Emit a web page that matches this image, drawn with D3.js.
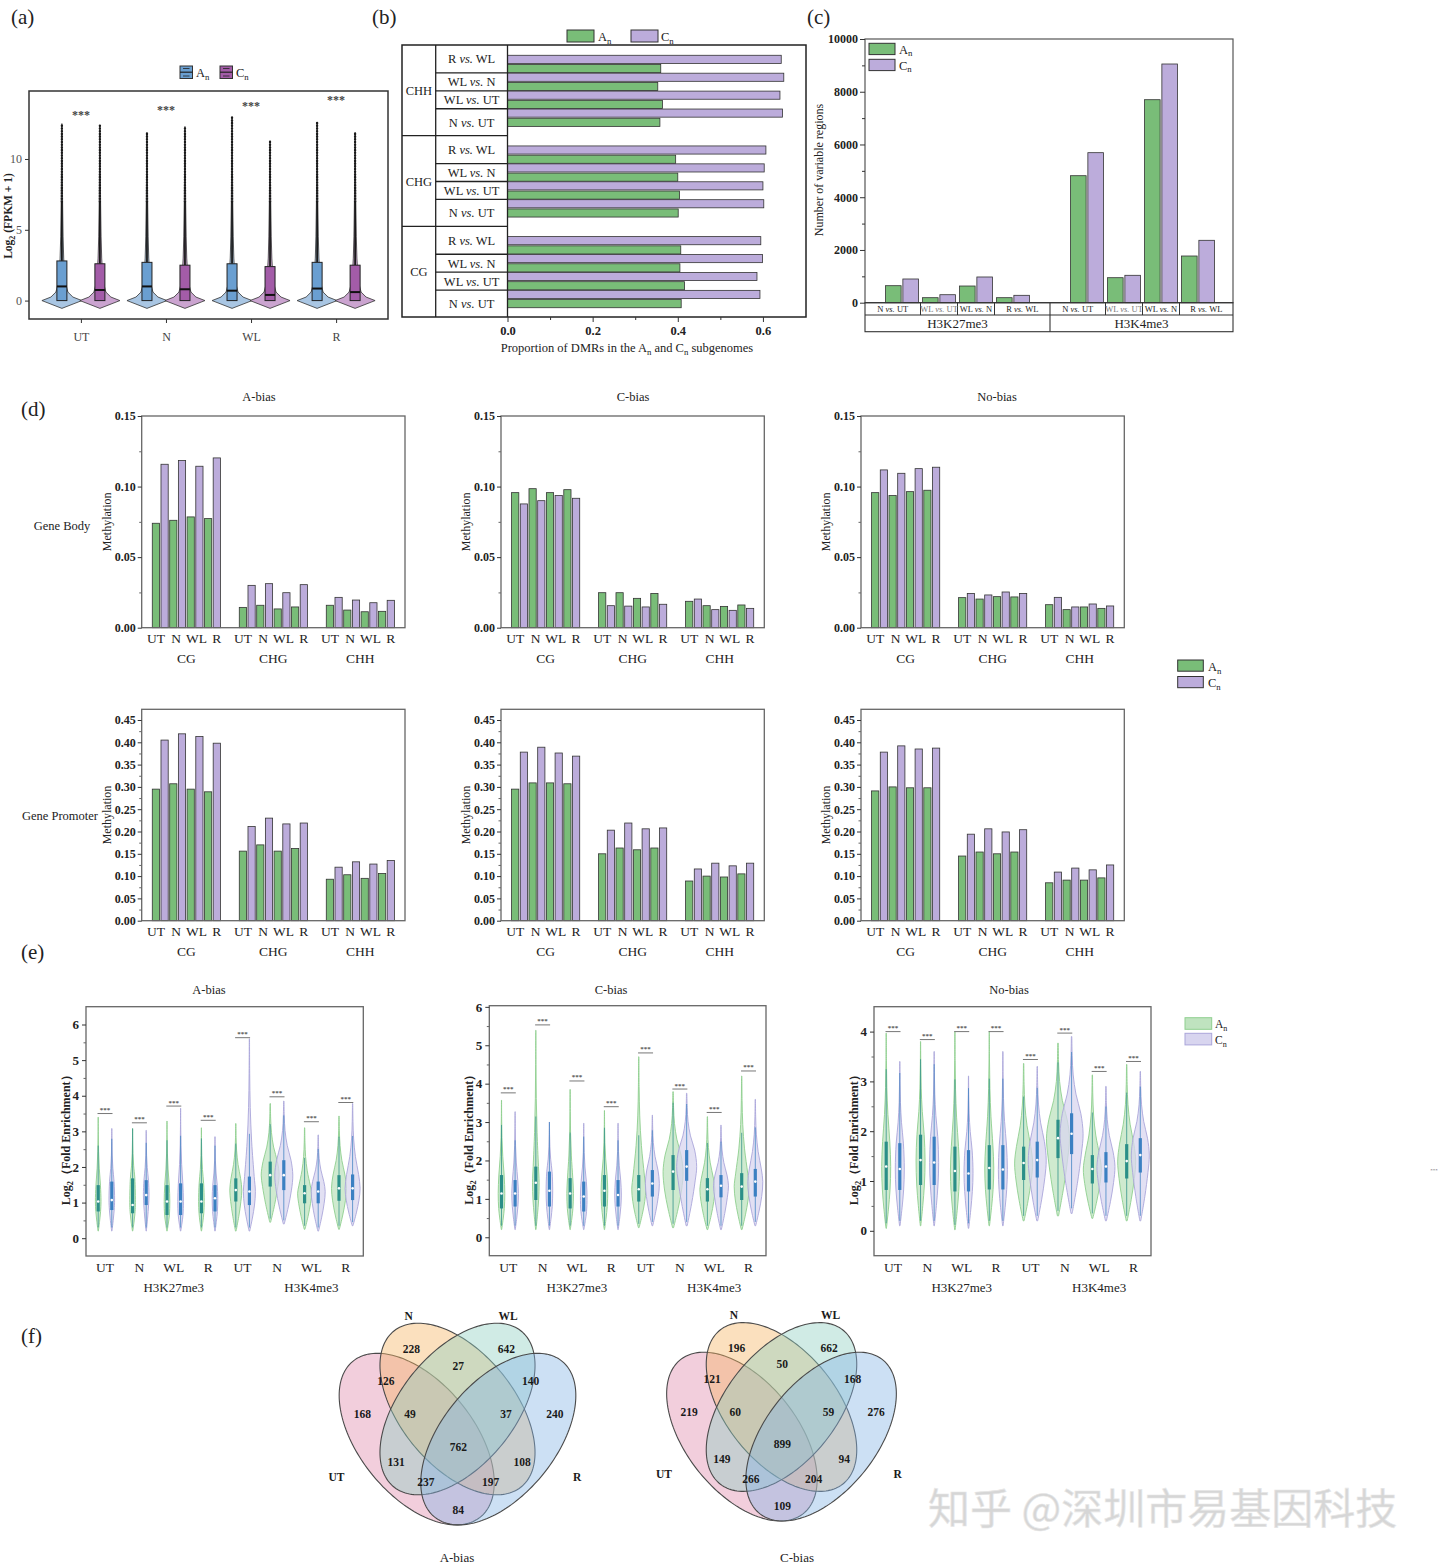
<!DOCTYPE html>
<html>
<head>
<meta charset="utf-8">
<title>Subgenome expression, DNA methylation and histone marks</title>
<script src="https://cdn.jsdelivr.net/npm/d3@7/dist/d3.min.js"></script>
<style>
  body { margin: 0; background: #fff; }
  svg { display: block; }
</style>
</head>
<body>
<svg id="fig" width="1440" height="1568"></svg>
<script>
// ---- (a) expression, log2(FPKM+1): box summaries per condition ----
const condA = ['UT', 'N', 'WL', 'R'];
const aMedAn = [1.0, 1.0, 0.7, 0.85];
const aQ3An = [2.8, 2.7, 2.6, 2.7];
const aMaxAn = [12.5, 11.9, 13.0, 12.6];
const aMedCn = [0.75, 0.8, 0.4, 0.6];
const aQ3Cn = [2.6, 2.5, 2.4, 2.5];
const aMaxCn = [12.4, 12.3, 11.3, 11.9];
const aSigY = [13.2, 13.5, 13.8, 14.2];

// ---- (b) proportion of DMRs ----
const dmrContexts = ['CHH', 'CHG', 'CG'];
const dmrComparisons = ['R vs. WL', 'WL vs. N', 'WL vs. UT', 'N vs. UT'];
const dmrAn = [[0.360, 0.353, 0.364, 0.358], [0.395, 0.400, 0.404, 0.401], [0.407, 0.405, 0.416, 0.408]];
const dmrCn = [[0.643, 0.649, 0.640, 0.646], [0.607, 0.603, 0.600, 0.602], [0.595, 0.599, 0.586, 0.593]];

// ---- (c) variable histone regions ----
const histMarks = ['H3K27me3', 'H3K4me3'];
const histComparisons = ['N vs. UT', 'WL vs. UT', 'WL vs. N', 'R vs. WL'];
const regionsAn = [[645, 190, 633, 190], [4816, 948, 7698, 1771]];
const regionsCn = [[899, 303, 975, 280], [5689, 1039, 9052, 2366]];

// ---- (d) methylation level [context][condition] ----
const contexts = ['CG', 'CHG', 'CHH'];
const conditions = ['UT', 'N', 'WL', 'R'];
const bodyAnA = [[0.074, 0.0761, 0.0785, 0.0773], [0.0144, 0.0159, 0.0133, 0.0147], [0.0159, 0.0125, 0.0113, 0.0116]];
const bodyCnA = [[0.1158, 0.1184, 0.1144, 0.1203], [0.0300, 0.0312, 0.0248, 0.0305], [0.0215, 0.0196, 0.0177, 0.0194]];
const bodyAnC = [[0.0957, 0.0985, 0.0957, 0.0978], [0.0248, 0.0248, 0.0208, 0.0243], [0.0187, 0.0156, 0.0151, 0.0161]];
const bodyCnC = [[0.0877, 0.0900, 0.0936, 0.0917], [0.0156, 0.0153, 0.0147, 0.0166], [0.0203, 0.0128, 0.0123, 0.0137]];
const bodyAnN = [[0.0957, 0.0936, 0.0964, 0.0974], [0.0213, 0.0203, 0.0220, 0.0218], [0.0163, 0.0128, 0.0147, 0.0137]];
const bodyCnN = [[0.1118, 0.1094, 0.1127, 0.1137], [0.0243, 0.0232, 0.0253, 0.0243], [0.0215, 0.0147, 0.0168, 0.0154]];
const promAnA = [[0.295, 0.307, 0.295, 0.289], [0.156, 0.170, 0.156, 0.162], [0.093, 0.103, 0.095, 0.106]];
const promCnA = [[0.405, 0.419, 0.413, 0.398], [0.211, 0.230, 0.217, 0.219], [0.120, 0.132, 0.127, 0.135]];
const promAnC = [[0.295, 0.309, 0.309, 0.307], [0.150, 0.163, 0.159, 0.163], [0.089, 0.100, 0.098, 0.105]];
const promCnC = [[0.378, 0.389, 0.376, 0.369], [0.203, 0.219, 0.206, 0.208], [0.116, 0.129, 0.123, 0.129]];
const promAnN = [[0.291, 0.300, 0.298, 0.298], [0.145, 0.154, 0.150, 0.154], [0.085, 0.091, 0.091, 0.096]];
const promCnN = [[0.378, 0.392, 0.385, 0.387], [0.194, 0.206, 0.199, 0.204], [0.109, 0.118, 0.114, 0.125]];

// ---- (e) log2 fold enrichment: [min, q1, median, q3, max] per condition (H3K27me3 x4, H3K4me3 x4) ----
const enrAnA = [[0.2, 0.75, 1.03, 1.49, 3.4], [0.2, 0.7, 0.93, 1.68, 3.08], [0.2, 0.65, 1.03, 1.49, 3.29], [0.2, 0.7, 1.03, 1.54, 3.1],
  [0.2, 1.03, 1.35, 1.68, 3.22], [0.45, 1.45, 1.77, 2.15, 3.78], [0.25, 0.98, 1.26, 1.49, 3.1], [0.25, 1.05, 1.4, 1.77, 3.43]];
const enrCnA = [[0.2, 0.79, 1.07, 1.59, 3.08], [0.2, 0.93, 1.21, 1.63, 3.03], [0.2, 0.65, 1.03, 1.54, 3.65], [0.2, 0.75, 1.12, 1.49, 2.85],
  [0.2, 0.93, 1.31, 1.73, 5.6], [0.4, 1.35, 1.77, 2.19, 3.85], [0.2, 0.98, 1.31, 1.59, 2.9], [0.35, 1.07, 1.4, 1.79, 3.78]];
const enrSigA = [3.5, 3.24, 3.71, 3.31, 5.63, 3.97, 3.27, 3.81];
const enrSpreadA = [0.28, 0.28, 0.28, 0.28, 0.6, 0.9, 0.7, 0.75];
const enrAnC = [[0.2, 0.75, 1.14, 1.62, 3.57], [0.2, 0.97, 1.42, 1.84, 5.39], [0.2, 0.75, 1.14, 1.54, 3.85], [0.2, 0.8, 1.21, 1.62, 3.3],
  [0.25, 0.93, 1.25, 1.62, 4.7], [0.25, 1.23, 1.71, 2.14, 3.79], [0.2, 0.93, 1.25, 1.54, 3.14], [0.2, 0.97, 1.32, 1.67, 4.2]];
const enrCnC = [[0.2, 0.8, 1.14, 1.49, 3.27], [0.2, 0.8, 1.21, 1.71, 3.0], [0.2, 0.67, 1.06, 1.45, 2.97], [0.2, 0.8, 1.1, 1.49, 2.97],
  [0.3, 1.06, 1.4, 1.75, 3.18], [0.3, 1.47, 1.84, 2.27, 3.75], [0.2, 1.04, 1.34, 1.62, 2.92], [0.3, 1.06, 1.45, 1.78, 3.59]];
const enrSigC = [3.76, 5.53, 4.07, 3.4, 4.8, 3.86, 3.25, 4.33];
const enrSpreadC = [0.33, 0.33, 0.33, 0.33, 0.7, 1.0, 0.75, 0.75];
const enrAnN = [[0.05, 0.82, 1.29, 1.79, 3.97], [0.1, 0.92, 1.42, 1.93, 3.8], [0.02, 0.79, 1.2, 1.69, 4.0], [0.1, 0.83, 1.26, 1.72, 4.0],
  [0.2, 1.02, 1.36, 1.69, 3.36], [0.3, 1.46, 1.86, 2.23, 3.77], [0.25, 0.95, 1.24, 1.52, 3.13], [0.2, 1.05, 1.4, 1.74, 3.34]];
const enrCnN = [[0.1, 0.82, 1.24, 1.76, 3.4], [0.1, 0.92, 1.37, 1.89, 3.6], [0.05, 0.79, 1.15, 1.62, 3.11], [0.1, 0.83, 1.23, 1.72, 3.6],
  [0.2, 1.07, 1.42, 1.79, 3.3], [0.35, 1.54, 1.95, 2.36, 3.9], [0.2, 0.97, 1.29, 1.58, 2.9], [0.2, 1.17, 1.52, 1.86, 3.2]];
const enrSigN = [4.0, 3.84, 4.0, 4.0, 3.44, 3.97, 3.2, 3.4];
const enrSpreadN = [0.45, 0.45, 0.45, 0.45, 0.9, 1.15, 0.9, 0.9];

// ---- (f) Venn region counts ----
const vennSets = ['UT', 'N', 'WL', 'R'];
const vennCountsA = [228, 642, 27, 126, 140, 168, 49, 37, 240, 762, 131, 108, 237, 197, 84];
const vennCountsC = [196, 662, 50, 121, 168, 219, 60, 59, 276, 899, 149, 94, 266, 204, 109];

// ================= drawing =================
const FONT = '"Liberation Serif","Times New Roman",serif';
const GREEN = '#79bd78', PURPLE = '#bcacdb';
const svg = d3.select('#fig').attr('font-family', FONT);
svg.append('rect').attr('width', 1440).attr('height', 1568).attr('fill', '#fff');

function txt(g, x, y, s, o = {}) {
  return g.append('text').attr('x', x).attr('y', y).text(s)
    .attr('font-size', o.size || 12)
    .attr('font-weight', o.bold ? 'bold' : null)
    .attr('font-style', o.italic ? 'italic' : null)
    .attr('text-anchor', o.anchor || 'middle')
    .attr('fill', o.fill || '#222');
}
// text with subscript / italic pieces
function rich(g, x, y, segs, o = {}) {
  const size = o.size || 12;
  const t = g.append('text').attr('x', x).attr('y', y).attr('font-size', size)
    .attr('text-anchor', o.anchor || 'middle').attr('fill', o.fill || '#222')
    .attr('font-weight', o.bold ? 'bold' : null);
  let shift = 0;
  segs.forEach(s => {
    const seg = typeof s === 'string' ? { t: s } : s;
    const sp = t.append('tspan').text(seg.t);
    const want = seg.sub ? size * 0.22 : 0;
    if (want !== shift) { sp.attr('dy', want - shift); shift = want; }
    if (seg.sub) sp.attr('font-size', size * 0.7);
    if (seg.it) sp.attr('font-style', 'italic');
  });
  return t;
}
const vsSegs = s => { const p = s.split('vs.'); return [p[0], { t: 'vs.', it: true }, p[1]]; };
const subN = base => [base, { t: 'n', sub: true }];

function styleAxis(sel, o = {}) {
  sel.attr('font-family', FONT).attr('font-size', o.size || 12);
  sel.select('.domain').remove();
  sel.selectAll('.tick line').attr('stroke', o.stroke || '#333');
  sel.selectAll('.tick text').attr('fill', o.fill || '#222').attr('font-weight', o.bold ? 'bold' : null);
}
function frame(g, x0, y0, x1, y1, color, w) {
  g.append('rect').attr('x', x0).attr('y', y0).attr('width', x1 - x0).attr('height', y1 - y0)
    .attr('fill', 'none').attr('stroke', color || '#333').attr('stroke-width', w || 1.3);
}
function hline(g, x0, x1, y, c, w) {
  g.append('line').attr('x1', x0).attr('x2', x1).attr('y1', y).attr('y2', y).attr('stroke', c || '#222').attr('stroke-width', w || 1.3);
}
function vline(g, x, y0, y1, c, w) {
  g.append('line').attr('x1', x).attr('x2', x).attr('y1', y0).attr('y2', y1).attr('stroke', c || '#222').attr('stroke-width', w || 1.3);
}
function rotLabel(g, x, y, segs, o) {
  const gg = g.append('g').attr('transform', `translate(${x},${y}) rotate(-90)`);
  return rich(gg, 0, 0, segs, o);
}

// panel letters
[['(a)', 11, 24], ['(b)', 372, 24], ['(c)', 807, 24], ['(d)', 21, 416], ['(e)', 21, 959], ['(f)', 21, 1343]]
  .forEach(([s, x, y]) => txt(svg, x, y, s, { size: 21, anchor: 'start', fill: '#222' }));

// ---------- (a) violin + box ----------
{
  const g = svg.append('g');
  const x = d3.scalePoint().domain(condA).range([29, 388]).padding(0.61);
  const y = d3.scaleLinear().domain([-1.3, 14.8]).range([319, 91]);
  const shape = [[-0.55, 0], [0, 1], [0.25, 0.55], [0.6, 0.3], [1.2, 0.19], [2, 0.13], [3, 0.09], [4.5, 0.06], [7, 0.035]];
  const series = [
    { off: -19, med: aMedAn, q3: aQ3An, max: aMaxAn, box: '#6a9fd1', vio: '#a9c6e3' },
    { off: 19, med: aMedCn, q3: aQ3Cn, max: aMaxCn, box: '#a35ca8', vio: '#cba4d0' }];
  const area = d3.area().y(d => y(d.v)).x0(d => d.cx - d.w).x1(d => d.cx + d.w);
  series.forEach(s => condA.forEach((c, i) => {
    const cx = x(c) + s.off;
    const pts = shape.map(([v, w]) => ({ v, w: w * 20, cx })).concat([{ v: s.max[i], w: 0, cx }]);
    g.append('path').attr('d', area(pts)).attr('fill', s.vio).attr('stroke', '#333').attr('stroke-width', 0.8);
    g.append('line').attr('x1', cx).attr('x2', cx).attr('y1', y(s.q3[i])).attr('y2', y(7))
      .attr('stroke', '#1a1a1a').attr('stroke-width', 1.8);
    g.append('line').attr('x1', cx).attr('x2', cx).attr('y1', y(7)).attr('y2', y(s.max[i]))
      .attr('stroke', '#1a1a1a').attr('stroke-width', 2.4).attr('stroke-linecap', 'round').attr('stroke-dasharray', '0.1 2.6');
    g.append('rect').attr('x', cx - 5).attr('width', 10).attr('y', y(s.q3[i])).attr('height', y(0) - y(s.q3[i]))
      .attr('fill', s.box).attr('stroke', '#222').attr('stroke-width', 1);
    hline(g, cx - 5, cx + 5, y(s.med[i]), '#111', 2);
  }));
  condA.forEach((c, i) => txt(g, x(c), y(aSigY[i]) + 5, '***', { size: 12, fill: '#444', bold: true }));
  frame(g, 29, 91, 388, 319, '#333', 1.5);
  styleAxis(g.append('g').attr('transform', 'translate(29,0)')
    .call(d3.axisLeft(y).tickValues([0, 5, 10]).tickSize(4).tickPadding(3)), { size: 12, fill: '#555' });
  styleAxis(g.append('g').attr('transform', 'translate(0,319)')
    .call(d3.axisBottom(x).tickSize(4).tickPadding(9)), { size: 12, fill: '#444' });
  rotLabel(g, 12, 216, ['Log', { t: '2', sub: true }, ' (FPKM + 1)'], { size: 11.5, bold: true });
  // legend
  [[180, '#6a9fd1', 'A'], [220, '#a35ca8', 'C']].forEach(([lx, col, lab]) => {
    g.append('rect').attr('x', lx).attr('y', 66).attr('width', 12.5).attr('height', 12.5).attr('fill', col).attr('stroke', '#333');
    hline(g, lx, lx + 12.5, 72.2, '#222', 1.2);
    hline(g, lx + 3, lx + 9.5, 68.5, '#222', 0.8);
    hline(g, lx + 3, lx + 9.5, 76, '#222', 0.8);
    rich(g, lx + 16, 77, subN(lab), { size: 12.5, anchor: 'start' });
  });
}

// ---------- (b) horizontal bars ----------
{
  const g = svg.append('g');
  const L0 = 402, L1 = 435.7, L2 = 507.5, R = 806, T = 45, B = 317;
  const x = d3.scaleLinear().domain([0, 0.7]).range([L2, 805.5]);
  const block = d3.scaleBand().domain(dmrContexts).range([T, B]);
  const row = d3.scaleBand().domain(dmrComparisons).range([10, block.bandwidth() - 9]);
  const sub = d3.scaleBand().domain(['Cn', 'An']).range([0, row.bandwidth()]).paddingInner(0.12).paddingOuter(0.03);
  const bars = [];
  dmrContexts.forEach((c, ci) => dmrComparisons.forEach((k, ki) => {
    bars.push({ c, k, s: 'An', v: dmrAn[ci][ki] });
    bars.push({ c, k, s: 'Cn', v: dmrCn[ci][ki] });
  }));
  g.selectAll('rect.bar').data(bars).join('rect').attr('class', 'bar')
    .attr('x', x(0)).attr('y', d => block(d.c) + row(d.k) + sub(d.s))
    .attr('width', d => x(d.v) - x(0)).attr('height', sub.bandwidth())
    .attr('fill', d => d.s === 'An' ? GREEN : PURPLE).attr('stroke', '#333').attr('stroke-width', 0.8);
  frame(g, L0, T, R, B, '#222', 1.5);
  vline(g, L1, T, B); vline(g, L2, T, B);
  dmrContexts.slice(1).forEach(c => hline(g, L0, L2, block(c)));
  dmrContexts.forEach((c, ci) => {
    dmrComparisons.slice(1).forEach(k => hline(g, L1, L2, block(c) + row(k)));
    txt(g, (L0 + L1) / 2, block(c) + block.bandwidth() / 2 + 4.5, c, { size: 12.5 });
    dmrComparisons.forEach((k, ki) => {
      const top = ki === 0 ? block(c) : block(c) + row(k);
      const bot = ki === dmrComparisons.length - 1 ? block(c) + block.bandwidth() : block(c) + row(k) + row.bandwidth();
      rich(g, (L1 + L2) / 2, (top + bot) / 2 + 4.5, vsSegs(k), { size: 12.5 });
    });
  });
  styleAxis(g.append('g').attr('transform', `translate(0,${B})`)
    .call(d3.axisBottom(x).tickValues([0, 0.2, 0.4, 0.6]).tickFormat(d3.format('.1f')).tickSize(5).tickPadding(4)), { size: 12.5, bold: true });
  styleAxis(g.append('g').attr('transform', `translate(0,${B})`)
    .call(d3.axisBottom(x).tickValues([0.1, 0.3, 0.5]).tickFormat('').tickSize(3)));
  rich(g, 627, 352, ['Proportion of DMRs in the A', { t: 'n', sub: true }, ' and C', { t: 'n', sub: true }, ' subgenomes'], { size: 12.5 });
  [[567, GREEN, 'A', 598], [631, PURPLE, 'C', 661]].forEach(([lx, col, lab, tx]) => {
    g.append('rect').attr('x', lx).attr('y', 30).attr('width', 27).attr('height', 12).attr('fill', col).attr('stroke', '#333');
    rich(g, tx, 41, subN(lab), { size: 12.5, anchor: 'start' });
  });
}

// ---------- (c) vertical bars ----------
{
  const g = svg.append('g');
  const L = 865, R = 1233, T = 39, B = 302.7;
  const y = d3.scaleLinear().domain([0, 10000]).range([B, T]);
  const slot = d3.scaleLinear().domain([0, 1]).range([L, L + 37]);
  const sub = d3.scaleBand().domain(['An', 'Cn']).range([-16.5, 16.5]).paddingInner(0.1);
  const bars = [];
  histMarks.forEach((m, gi) => histComparisons.forEach((k, ki) => {
    const cx = slot(gi * 5 + ki + 1);
    bars.push({ x: cx + sub('An'), v: regionsAn[gi][ki], fill: GREEN });
    bars.push({ x: cx + sub('Cn'), v: regionsCn[gi][ki], fill: PURPLE });
  }));
  g.selectAll('rect.bar').data(bars).join('rect').attr('class', 'bar')
    .attr('x', d => d.x).attr('width', sub.bandwidth()).attr('y', d => y(d.v)).attr('height', d => y(0) - y(d.v))
    .attr('fill', d => d.fill).attr('stroke', '#333').attr('stroke-width', 0.8);
  frame(g, L, T, R, B, '#555', 1.2);
  // category strip
  const S1 = 315, S2 = 331.7;
  frame(g, L, B, R, S2, '#333', 1.1);
  hline(g, L, R, S1, '#333', 1.1);
  vline(g, slot(5), B, S2, '#333', 1.1);
  histMarks.forEach((m, gi) => {
    const edges = [gi === 0 ? L : slot(5)];
    [1, 2, 3].forEach(k => edges.push(slot(gi * 5 + k + 0.5)));
    edges.push(gi === 0 ? slot(5) : R);
    edges.slice(1, -1).forEach(e => vline(g, e, B, S1, '#333', 1));
    histComparisons.forEach((k, ki) => rich(g, (edges[ki] + edges[ki + 1]) / 2, 312.3, vsSegs(k),
      { size: 8.5, fill: ki === 1 ? '#777' : '#222' }));
    txt(g, (edges[0] + edges[4]) / 2, 328.3, m, { size: 13 });
  });
  styleAxis(g.append('g').attr('transform', `translate(${L},0)`)
    .call(d3.axisLeft(y).tickValues(d3.range(0, 10001, 2000)).tickFormat(d3.format('d')).tickSize(5).tickPadding(2)), { size: 12, bold: true });
  styleAxis(g.append('g').attr('transform', `translate(${L},0)`)
    .call(d3.axisLeft(y).tickValues(d3.range(1000, 10000, 2000)).tickFormat('').tickSize(3)));
  rotLabel(g, 823, 170, ['Number of variable regions'], { size: 12 });
  [[43.3, GREEN, 'A', 53.5], [59.3, PURPLE, 'C', 69.5]].forEach(([ly, col, lab, ty]) => {
    g.append('rect').attr('x', 869).attr('y', ly).attr('width', 26).attr('height', 11.3).attr('fill', col).attr('stroke', '#333');
    rich(g, 899, ty, subN(lab), { size: 12.5, anchor: 'start' });
  });
}

// ---------- (d) methylation bars ----------
function methylPanel(left, top, bottom, yMax, major, minor, anArr, cnArr) {
  const g = svg.append('g');
  const right = left + 263.3;
  const y = d3.scaleLinear().domain([0, yMax]).range([bottom, top]);
  const xb = d3.scaleBand().domain(d3.range(30)).range([left + 9.85, left + 9.85 + 261]).paddingInner(0.17).paddingOuter(0.085);
  const bars = [];
  contexts.forEach((c, ci) => conditions.forEach((k, ki) => {
    bars.push({ slot: ci * 10 + 2 * ki, v: anArr[ci][ki], fill: GREEN });
    bars.push({ slot: ci * 10 + 2 * ki + 1, v: cnArr[ci][ki], fill: PURPLE });
  }));
  g.selectAll('rect.bar').data(bars).join('rect').attr('class', 'bar')
    .attr('x', d => xb(d.slot)).attr('width', xb.bandwidth()).attr('y', d => y(d.v)).attr('height', d => y(0) - y(d.v))
    .attr('fill', d => d.fill).attr('stroke', '#333').attr('stroke-width', 0.8);
  frame(g, left, top, right, bottom, '#666', 1.3);
  styleAxis(g.append('g').attr('transform', `translate(${left},0)`)
    .call(d3.axisLeft(y).tickValues(major).tickFormat(d3.format('.2f')).tickSize(4).tickPadding(2)), { size: 12, bold: true });
  styleAxis(g.append('g').attr('transform', `translate(${left},0)`)
    .call(d3.axisLeft(y).tickValues(minor).tickFormat('').tickSize(2.5)), { stroke: '#666' });
  const half = xb.bandwidth() / 2;
  contexts.forEach((c, ci) => {
    // condition labels spread from the first green bar to the last purple bar of the group
    const lab = d3.scalePoint().domain(conditions).range([xb(ci * 10) + half, xb(ci * 10 + 7) + half]);
    conditions.forEach(k => txt(g, lab(k), bottom + 15, k, { size: 13.5 }));
    const gc = (xb(ci * 10) + xb(ci * 10 + 7) + xb.bandwidth()) / 2;
    txt(g, gc, bottom + 35, c, { size: 13.5 });
  });
  rotLabel(g, left - 31, (top + bottom) / 2, ['Methylation'], { size: 12 });
  return g;
}
const dLefts = [141.7, 501, 861];
const dTitles = [['A-bias', 259], ['C-bias', 633], ['No-bias', 997]];
const bodyTicks = [0, 0.05, 0.1, 0.15], bodyMinor = [0.025, 0.075, 0.125];
const promTicks = d3.range(0, 0.451, 0.05), promMinor = d3.range(0.025, 0.45, 0.05);
[[bodyAnA, bodyCnA], [bodyAnC, bodyCnC], [bodyAnN, bodyCnN]].forEach(([an, cn], i) =>
  methylPanel(dLefts[i], 416, 627.7, 0.15, bodyTicks, bodyMinor, an, cn));
[[promAnA, promCnA], [promAnC, promCnC], [promAnN, promCnN]].forEach(([an, cn], i) =>
  methylPanel(dLefts[i], 709.3, 920.7, 0.474, promTicks, promMinor, an, cn));
dTitles.forEach(([t, x]) => txt(svg, x, 401, t, { size: 12.5 }));
txt(svg, 62, 530, 'Gene Body', { size: 12.5 });
txt(svg, 60, 820, 'Gene Promoter', { size: 12.5 });
[[660, GREEN, 'A', 671], [676.5, PURPLE, 'C', 687]].forEach(([ly, col, lab, ty]) => {
  svg.append('rect').attr('x', 1177.7).attr('y', ly).attr('width', 25.6).attr('height', 11.2).attr('fill', col).attr('stroke', '#333');
  rich(svg, 1208, ty, subN(lab), { size: 12.5, anchor: 'start' });
});

// ---------- (e) violin panels ----------
const vioStyle = {
  An: { fill: '#bfe3bf', stroke: '#8fcf8f', box: '#2b8f88', off: -6.8 },
  Cn: { fill: '#d8d5ef', stroke: '#aaa6da', box: '#3b80c2', off: 6.8 }};
function violinPanel(cfg, anStats, cnStats, sig, spread) {
  const g = svg.append('g');
  const y = d3.scaleLinear().domain(cfg.domain).range([cfg.bottom, cfg.top]);
  const x = d3.scalePoint().domain(d3.range(8)).range([cfg.left + 19, cfg.right - 17.5]);
  const area = d3.area().y(d => y(d.v)).x0(d => d.cx - d.w).x1(d => d.cx + d.w).curve(d3.curveCatmullRom);
  const drawOne = (st, s, i) => {
    const [mn, q1, md, q3, mx] = st;
    const cx = x(i) + s.off, W = spread[i] * 10;
    const prof = [[mn, 0.05], [mn + (q1 - mn) * 0.5, 0.5], [q1, 0.85], [md, 1], [q3, 0.8],
      [q3 + (mx - q3) * 0.25, 0.38], [q3 + (mx - q3) * 0.5, 0.14], [q3 + (mx - q3) * 0.75, 0.05], [mx, 0.02]];
    g.append('path').attr('d', area(prof.map(([v, w]) => ({ v, w: w * W, cx }))))
      .attr('fill', s.fill).attr('fill-opacity', 0.75).attr('stroke', s.stroke).attr('stroke-width', 0.9);
    const upper = Math.min(mx, q3 + 1.5 * (q3 - q1));
    g.append('line').attr('x1', cx).attr('x2', cx).attr('y1', y(mn + 0.1)).attr('y2', y(upper))
      .attr('stroke', s.box).attr('stroke-opacity', 0.75).attr('stroke-width', 1);
    g.append('line').attr('x1', cx).attr('x2', cx).attr('y1', y(q1)).attr('y2', y(q3))
      .attr('stroke', s.box).attr('stroke-width', 3.2);
    g.append('circle').attr('cx', cx).attr('cy', y(md)).attr('r', 1.3).attr('fill', '#fff');
  };
  anStats.forEach((st, i) => drawOne(st, vioStyle.An, i));
  cnStats.forEach((st, i) => drawOne(st, vioStyle.Cn, i));
  sig.forEach((v, i) => {
    hline(g, x(i) - 7.5, x(i) + 7.5, y(v), '#777', 1);
    txt(g, x(i), y(v) - 1.5, '***', { size: 7, bold: true, fill: '#555' });
  });
  frame(g, cfg.left, cfg.top, cfg.right, cfg.bottom, '#666', 1.3);
  styleAxis(g.append('g').attr('transform', `translate(${cfg.left},0)`)
    .call(d3.axisLeft(y).tickValues(d3.range(0, cfg.ymax + 1)).tickFormat(d3.format('d')).tickSize(4).tickPadding(3)), { size: 13, bold: true });
  styleAxis(g.append('g').attr('transform', `translate(${cfg.left},0)`)
    .call(d3.axisLeft(y).tickValues(d3.range(0.5, cfg.ymax + 0.1, 1)).tickFormat('').tickSize(2.5)), { stroke: '#666' });
  const labels = histMarks.flatMap(() => conditions);
  labels.forEach((c, i) => txt(g, x(i), 1271.5, c, { size: 13.5 }));
  histMarks.forEach((m, gi) => txt(g, x(gi * 4 + 2), 1291.5, m, { size: 13 }));
  rotLabel(g, cfg.left - 16, (cfg.top + cfg.bottom) / 2 + 6, ['Log', { t: '2', sub: true }, '（Fold Enrichment）'], { size: 12, bold: true });
  txt(g, cfg.tx, 994, cfg.title, { size: 12.5 });
}
violinPanel({ title: 'A-bias', tx: 209, left: 86, right: 363.3, top: 1006.7, bottom: 1256, domain: [-0.5, 6.5], ymax: 6 },
  enrAnA, enrCnA, enrSigA, enrSpreadA);
violinPanel({ title: 'C-bias', tx: 611, left: 489.3, right: 766, top: 1005.7, bottom: 1255.7, domain: [-0.48, 6.03], ymax: 6 },
  enrAnC, enrCnC, enrSigC, enrSpreadC);
violinPanel({ title: 'No-bias', tx: 1009, left: 874, right: 1151, top: 1006.7, bottom: 1255.7, domain: [-0.5, 4.5], ymax: 4 },
  enrAnN, enrCnN, enrSigN, enrSpreadN);
[[1017.7, vioStyle.An, 'A', 1028], [1033.3, vioStyle.Cn, 'C', 1044]].forEach(([ly, s, lab, ty]) => {
  svg.append('rect').attr('x', 1185).attr('y', ly).attr('width', 26.7).attr('height', 11.6).attr('fill', s.fill).attr('stroke', s.stroke);
  rich(svg, 1215, ty, subN(lab), { size: 11.5, anchor: 'start' });
});
txt(svg, 1434, 1172, '***', { size: 5, fill: '#666' });

// ---------- (f) Venn diagrams ----------
const vennEllipses = [
  { set: 'UT', cx: 0.35, cy: 0.47, rot: -45, fill: '#e08aab' },
  { set: 'N', cx: 0.5, cy: 0.57, rot: -45, fill: '#f5b664' },
  { set: 'WL', cx: 0.5, cy: 0.57, rot: 45, fill: '#8fd0c2' },
  { set: 'R', cx: 0.65, cy: 0.47, rot: 45, fill: '#86b5e4' }];
const vennRegionPos = [[0.33, 0.768], [0.68, 0.768], [0.503, 0.714], [0.237, 0.663], [0.769, 0.663],
  [0.15, 0.553], [0.325, 0.553], [0.678, 0.553], [0.858, 0.553], [0.503, 0.445],
  [0.274, 0.393], [0.738, 0.393], [0.384, 0.328], [0.622, 0.328], [0.503, 0.234]];
const vennSetPos = [[0.055, 0.345], [0.32, 0.88], [0.686, 0.88], [0.94, 0.345]];
function drawVenn(cx0, yc, Wx, Wy, counts, title, titleX) {
  const g = svg.append('g');
  const vx = d3.scaleLinear().domain([0, 1]).range([cx0 - Wx / 2, cx0 + Wx / 2]);
  const vy = d3.scaleLinear().domain([0.57, 1.57]).range([yc, yc - Wy]);
  const line = d3.line().x(p => vx(p[0])).y(p => vy(p[1])).curve(d3.curveLinearClosed);
  vennEllipses.forEach(e => {
    const th = e.rot * Math.PI / 180;
    const pts = d3.range(0, 360, 2).map(deg => {
      const t = deg * Math.PI / 180;
      return [e.cx + 0.35 * Math.cos(t) * Math.cos(th) - 0.2 * Math.sin(t) * Math.sin(th),
              e.cy + 0.35 * Math.cos(t) * Math.sin(th) + 0.2 * Math.sin(t) * Math.cos(th)];
    });
    g.append('path').attr('d', line(pts)).attr('fill', e.fill).attr('fill-opacity', 0.42)
      .attr('stroke', '#4a4a4a').attr('stroke-width', 1.1);
  });
  counts.forEach((c, i) => txt(g, vx(vennRegionPos[i][0]), vy(vennRegionPos[i][1]) + 4, c, { size: 11.5, bold: true, fill: '#1a1a1a' }));
  vennSets.forEach((s, i) => txt(g, vx(vennSetPos[i][0]), vy(vennSetPos[i][1]) + 4, s, { size: 11.5, bold: true, fill: '#1a1a1a' }));
  txt(g, titleX, 1562, title, { size: 13 });
}
drawVenn(457.5, 1409, 272, 301, vennCountsA, 'A-bias', 457);
drawVenn(781.5, 1407, 264, 296, vennCountsC, 'C-bias', 797);

// watermark
svg.append('text').attr('x', 928).attr('y', 1524).attr('font-family', '"Noto Sans CJK SC", sans-serif')
  .attr('font-size', 42).attr('fill', '#d6d6d6').attr('stroke', '#e8e8e8').attr('stroke-width', 0.6)
  .text('知乎 @深圳市易基因科技');
</script>
</body>
</html>
